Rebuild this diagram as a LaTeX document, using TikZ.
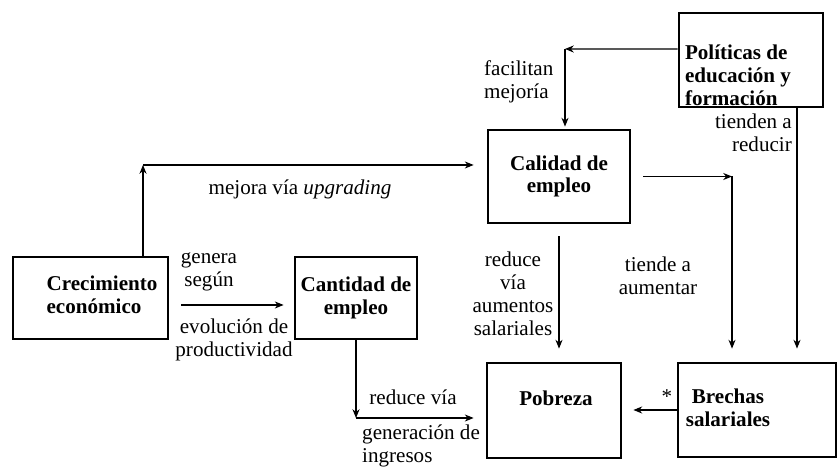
\documentclass[tikz,border=0pt]{standalone}
\usepackage{fontspec}
\setmainfont{Liberation Serif}
\usetikzlibrary{arrows.meta}

\begin{document}
\begin{tikzpicture}[x=0.02cm, y=-0.02cm,
    font=\fontsize{12}{13}\selectfont,
    caja/.style={draw, line width=1.6pt, inner sep=0pt,
        font=\fontsize{12}{13}\selectfont\bfseries},
    negrita/.style={font=\fontsize{12}{13}\selectfont\bfseries},
    flecha/.style={line width=0.6pt, -{Stealth[length=5pt,width=4pt]}}]

    \useasboundingbox (0,0) rectangle (838,475);

    % Define node positions
    \node[caja, minimum width=3.1cm, minimum height=1.64cm] (crec) at (90.5,298) {};
    \node[negrita, align=left] (crectxt) at (102,295) {Crecimiento\\económico};
    \node[caja, minimum width=2.44cm, minimum height=1.64cm, align=center] (cant)
        at (356,298) {Cantidad de\\empleo};
    \node[caja, minimum width=2.84cm, minimum height=1.86cm, align=center] (cal)
        at (559,176.5) {Calidad de\\empleo};
    \node[caja, minimum width=2.88cm, minimum height=1.88cm] (pol) at (751,60) {};
    \node[negrita, align=left] (poltxt) at (738,75) {Políticas de\\educación y\\formación};
    \node[caja, minimum width=2.68cm, minimum height=1.9cm] (pob) at (554,410.5) {};
    \node[negrita] (pobtxt) at (556,398) {Pobreza};
    \node[caja, minimum width=3.16cm, minimum height=1.88cm] (bre) at (757,410) {};
    \node[negrita, align=center] (bretxt) at (728,408) {Brechas\\salariales};

    % Corners of the bent arrows
    \coordinate (k1) at (143,165);
    \coordinate (k2) at (356,418);
    \coordinate (k3) at (732,176.5);
    \coordinate (k4) at (565,49);
    \coordinate (k5) at ([xshift=0.92cm]pol.south);

    % Draw arrows
    \draw[flecha] (crec.north -| k1) -- (k1);
    \draw[flecha, shorten >=0.26cm] (k1) -- (k1 -| cal.west);
    \draw[flecha, shorten <=0.24cm, shorten >=0.2cm]
        ([yshift=-0.14cm]crec.east) -- ([yshift=-0.14cm]cant.west);
    \draw[flecha] (cant.south) -- (k2);
    \draw[flecha, shorten >=0.24cm] (k2) -- (k2 -| pob.west);
    \draw[flecha, shorten <=0.24cm, shorten >=0.26cm] (cal.south) -- (cal.south |- pob.north);
    \draw[flecha, shorten <=0.24cm] (cal.east) -- (k3);
    \draw[flecha, shorten >=0.26cm] (k3) -- (k3 |- bre.north);
    \draw[flecha] ([yshift=0.22cm]pol.west) -- (k4);
    \draw[flecha, shorten >=0.04cm] (k4) -- (k4 |- cal.north);
    \draw[flecha, shorten >=0.26cm] (k5) -- (k5 |- bre.north);
    \draw[flecha, shorten >=0.22cm] (bre.west) -- (bre.west -| pob.east);

    % Arrow labels
    \node (lmej) at (300,189) {mejora vía \textit{upgrading}};
    \node[align=center] (lgen) at (209,272) {genera\\según};
    \node[align=center] (levo) at (234,340) {evolución de\\productividad};
    \node (lred) at (413,397) {reduce vía};
    \node[align=left, anchor=west] (lgi) at (356,446) {generación de\\ingresos};
    \node[align=center] (lsal) at (513,294) {reduce\\vía\\aumentos\\salariales};
    \node[align=center] (ltie) at (658,276) {tiende a\\aumentar};
    \node[align=left, anchor=west] (lfac) at (478,82) {facilitan\\mejoría};
    \node[align=right, anchor=east] (lten) at (798,133) {tienden a\\reducir};
    \node (last) at (667,397) {*};
\end{tikzpicture}
\end{document}
